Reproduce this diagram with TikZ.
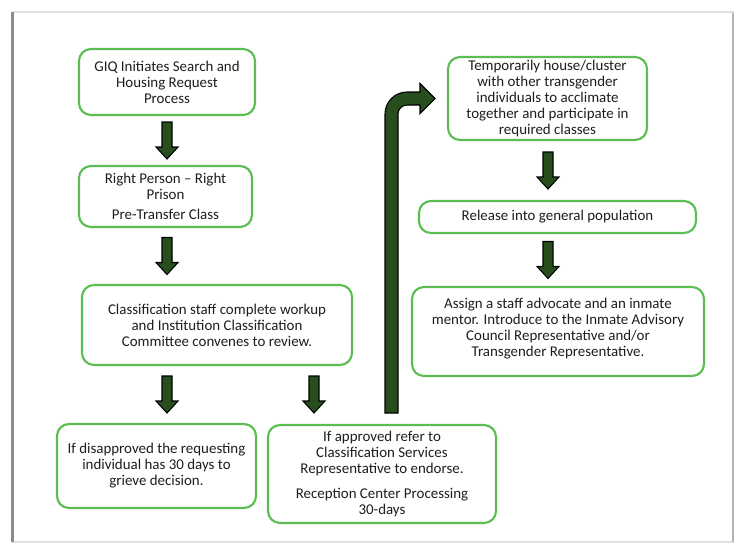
\documentclass[tikz,border=0pt]{standalone}
\usepackage{fontspec}
\setmainfont{Carlito}
\usetikzlibrary{calc,fit}
\definecolor{boxgreen}{RGB}{92,189,82}
\definecolor{arrowgreen}{RGB}{40,78,30}
\definecolor{inktext}{RGB}{30,30,30}
\begin{document}
\begin{tikzpicture}[x=0.75pt,y=-0.75pt,
  box/.style={draw=boxgreen, line width=1.6pt, rounded corners=9pt, fill=white,
    inner sep=0pt},
  boxtext/.style={inner sep=0pt, align=center, font=\fontsize{11.2}{12}\selectfont,
    text=inktext},
  blockarrow/.style={draw=black, line width=0.8pt, fill=arrowgreen, line join=miter},
  darr/.pic={\path[blockarrow] (-5,-18.5) -- (-5,6.5) -- (-11,6.5) -- (0,18.5)
    -- (11,6.5) -- (5,6.5) -- (5,-18.5) -- cycle;}]

% page area and framed panel
\useasboundingbox (0,0) rectangle (736,544);
\fill[white] (0,0) rectangle (736,544);
\draw[black!12, line width=1.5pt] (12.5,12) rectangle (733,541.5);
\draw[black!30, line width=1.2pt] (733,13) -- (733,541.5);
\draw[black!45, line width=2pt] (12.5,12) -- (12.5,542);

% left column
\node[box, fit={(79,49) (255,115)}] (g1) {};
\node[box, fit={(79,166) (252,227)}] (rp) {};
\node[box, fit={(82,285) (352,365)}] (cls) {};
\node[box, fit={(57,424) (256,508)}] (dis) {};
\node[box, fit={(268,425) (496,523)}] (ap) {};

% right column
\node[box, fit={(448,57) (647,140)}] (tmp) {};
\node[box, fit={(419,201) (696,233)}] (rel) {};
\node[box, fit={(412,287) (704,376)}] (adv) {};

% box texts
\node[boxtext] (g1t) at (g1.center)
  {GIQ Initiates Search and\\Housing Request\\Process};
\node[boxtext] (rpt) at (rp.center)
  {Right Person -- Right\\Prison\\[3pt]Pre-Transfer Class};
\node[boxtext] (clst) at (cls.center)
  {Classification staff complete workup\\and Institution Classification\\Committee convenes to review.};
\node[boxtext] (dist) at (dis.center)
  {If disapproved the requesting\\individual has 30 days to\\grieve decision.};
\node[boxtext] (apt) at (ap.center)
  {If approved refer to\\Classification Services\\Representative to endorse.\\[6.5pt]Reception Center Processing\\30-days};
\node[boxtext] (tmpt) at (tmp.center)
  {Temporarily house/cluster\\with other transgender\\individuals to acclimate\\together and participate in\\required classes};
\node[boxtext] (relt) at (rel.center)
  {Release into general population};
\node[boxtext] (advt) at ([yshift=2.5pt]adv.center)
  {Assign a staff advocate and an inmate\\mentor. Introduce to the Inmate Advisory\\Council Representative and/or\\Transgender Representative.};

% block arrows, centred in the gaps between boxes
\coordinate (m1) at ($(g1.south)!0.5!(rp.north)$);
\coordinate (m2) at ($(rp.south)!0.5!(cls.north)$);
\coordinate (m3) at ($(cls.south)!0.5!(dis.north)$);
\coordinate (m4) at ($(tmp.south)!0.5!(rel.north)$);
\coordinate (m5) at ($(rel.south)!0.5!(adv.north)$);
\pic at (167,0 |- m1) {darr};
\pic at (167,0 |- m2) {darr};
\pic at (167,0 |- m3) {darr};
\pic at (314,0 |- m3) {darr};
\pic at (548,0 |- m4) {darr};
\pic at (548,0 |- m5) {darr};

% bent arrow from the approval box up to the temporary housing box
\coordinate (bendfoot) at (391.5,413);
\coordinate (bendtip) at (435,98.5);
\path[blockarrow] (385,413) -- (385,114)
  .. controls (385,101.9) and (394.9,92) .. (407,92)
  -- (420,92) -- (420,83.5) -- (bendtip) -- (420,113.5) -- (420,105)
  -- (407,105) .. controls (402,105) and (398,109) .. (398,114)
  -- (398,413) -- cycle;
\end{tikzpicture}
\end{document}
